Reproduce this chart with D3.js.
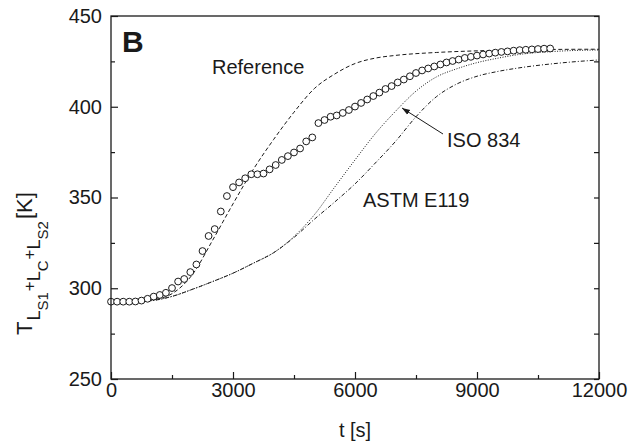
<!DOCTYPE html>
<html><head><meta charset="utf-8">
<script src="https://cdn.jsdelivr.net/npm/d3@7"></script>
<style>body{margin:0;background:#fff}svg{display:block;font-family:"Liberation Sans",Arial,sans-serif}</style>
</head><body>
<svg id="c" width="637" height="444"></svg>
<script>
// measured data (circles)
const measTime = [0,150,300,450,600,750,900,1050,1200,1350,1500,1650,1800,1950,2100,2250,2400,2550,2700,2850,3000,3150,3300,3450,3600,3750,3900,4050,4200,4350,4500,4650,4800,4950,5100,5250,5400,5550,5700,5850,6000,6150,6300,6450,6600,6750,6900,7050,7200,7350,7500,7650,7800,7950,8100,8250,8400,8550,8700,8850,9000,9150,9300,9450,9600,9750,9900,10050,10200,10350,10500,10650,10800];
const measTemp = [292.6,292.6,292.6,292.6,292.7,293.2,294.2,295.4,296.3,297.5,300.1,303.7,305.1,308.9,313.1,320.5,328.8,332.6,342.3,350.8,355.7,358.3,360.6,362.8,362.8,363.2,365.5,367.9,370.7,372.8,374.8,377.0,380.9,383.1,391.0,392.7,394.5,395.2,396.6,398.2,400.1,402.1,404.0,405.9,407.8,409.8,411.4,413.4,415.0,416.8,418.6,420.0,421.1,422.2,423.3,424.4,425.2,426.0,426.9,427.5,428.2,428.8,429.3,429.8,430.2,430.5,430.9,431.2,431.4,431.6,431.8,432.0,432.1];
// Reference curve (dashed)
const refTime = [0,500,1000,1500,2000,2500,3000,3500,4000,4500,5000,5500,6000,6500,7000,8000,9000,10000,11000,12000];
const refTemp = [292.5,292.7,293.6,297.0,307.5,326.5,346.5,365.5,382.0,397.0,410.0,418.0,423.8,426.8,428.3,429.9,430.8,431.3,431.6,431.7];
// ISO 834 (dotted)
const isoTime = [0,500,1000,1500,2000,2500,3000,3500,4000,4500,5000,5500,6000,6500,7000,7500,8000,8500,9000,9500,10000,11000,12000];
const isoTemp = [292.4,292.6,293.2,295.5,299.4,303.7,308.3,313.8,319.6,328.5,340.5,355.7,370.7,385.2,397.6,408.6,416.4,420.9,424.3,426.7,428.7,430.6,431.3];
// ASTM E119 (dash-dot)
const astmTime = [0,500,1000,1500,2000,2500,3000,3500,4000,4500,5000,5500,6000,6500,7000,7500,8000,8500,9000,9500,10000,11000,12000];
const astmTemp = [292.4,292.6,293.2,295.5,299.4,303.7,308.3,313.8,319.6,328.0,338.0,347.5,357.5,369.0,381.0,394.5,405.5,412.5,416.8,419.4,421.3,424.0,425.8];

const xMajor = [0,3000,6000,9000,12000];
const xMinor = [1500,4500,7500,10500];
const yMajor = [250,300,350,400,450];
const yMinor = [275,325,375,425];
const yAll = [250,275,300,325,350,375,400,425,450];

const svg = d3.select("#c");
const L=111,R=599,T=16,B=379;
const x = d3.scaleLinear([0,12000],[L,R]);
const y = d3.scaleLinear([250,450],[B,T]);
const ink="#1a1a1a";

function line(ts,vs){return d3.line().x((d,i)=>x(ts[i])).y(d=>y(d)).curve(d3.curveMonotoneX)(vs);}
svg.append("path").attr("d",line(refTime,refTemp)).attr("fill","none").attr("stroke",ink).attr("stroke-width",1).attr("stroke-dasharray","4,2.5");
svg.append("path").attr("d",line(isoTime,isoTemp)).attr("fill","none").attr("stroke",ink).attr("stroke-width",1).attr("stroke-dasharray","1,1.5");
svg.append("path").attr("d",line(astmTime,astmTemp)).attr("fill","none").attr("stroke",ink).attr("stroke-width",1).attr("stroke-dasharray","4,2,1,2");

svg.append("g").selectAll("circle").data(measTemp).join("circle")
  .attr("cx",(d,i)=>x(measTime[i])).attr("cy",d=>y(d)).attr("r",3.4)
  .attr("fill","#fff").attr("stroke",ink).attr("stroke-width",1);

function styleAxis(g){g.select(".domain").remove();g.selectAll("line").attr("stroke",ink).attr("stroke-width",1.2);
  g.selectAll("text").attr("font-size",20).attr("fill",ink).attr("font-family","'Liberation Sans',Arial,sans-serif");}
svg.append("g").attr("transform",`translate(0,${B})`).call(d3.axisBottom(x).tickValues(xMajor).tickSizeInner(-7).tickSizeOuter(0).tickPadding(4).tickFormat(d3.format("d"))).call(styleAxis);
svg.append("g").attr("transform",`translate(0,${B})`).call(d3.axisBottom(x).tickValues(xMinor).tickSizeInner(-4).tickSizeOuter(0).tickFormat("")).call(styleAxis);
svg.append("g").attr("transform",`translate(${L},0)`).call(d3.axisLeft(y).tickValues(yMajor).tickSizeInner(-7).tickSizeOuter(0).tickPadding(9)).call(styleAxis);
svg.append("g").attr("transform",`translate(${L},0)`).call(d3.axisLeft(y).tickValues(yMinor).tickSizeInner(-4).tickSizeOuter(0).tickFormat("")).call(styleAxis);
svg.append("g").attr("transform",`translate(${R},0)`).call(d3.axisRight(y).tickValues(yAll).tickSizeInner(-5).tickSizeOuter(0).tickFormat("")).call(styleAxis);

svg.append("rect").attr("x",L).attr("y",T).attr("width",R-L).attr("height",B-T).attr("fill","none").attr("stroke",ink).attr("stroke-width",1.3);

const txt=(s,xx,yy,fs,w)=>svg.append("text").attr("x",xx).attr("y",yy).attr("font-size",fs).attr("font-weight",w||"normal").attr("fill",ink).text(s);
txt("B",122,52,30,"bold");
txt("Reference",212,74,20);
txt("ISO 834",447,147,20);
txt("ASTM E119",363,207,20);
// x title
svg.append("text").attr("x",(L+R)/2).attr("y",437).attr("text-anchor","middle").attr("font-size",20).attr("fill",ink).text("t [s]");
// arrow
svg.append("defs").append("marker").attr("id","ah").attr("viewBox","0 0 10 10").attr("refX",10).attr("refY",5)
  .attr("markerWidth",8).attr("markerHeight",8).attr("markerUnits","userSpaceOnUse").attr("orient","auto")
  .append("path").attr("d","M0,1.5L10,5L0,8.5z").attr("fill",ink);
svg.append("line").attr("x1",443).attr("y1",134).attr("x2",402).attr("y2",108).attr("stroke",ink).attr("stroke-width",1).attr("marker-end","url(#ah)");

// y title
const yt = svg.append("text").attr("transform","translate(32,335) rotate(-90)").attr("fill",ink);
const parts = [["T",22,0,0],["L",18,8,1],["S1",15,16,0],["+",17,3,1],["L",18,8,0],["C",15,16,0],["+",17,3,1],["L",18,8,0],["S2",15,16,0],["[K]",22,0,2]];
let prev=0;
parts.forEach(([s,fs,base,dx])=>{yt.append("tspan").attr("font-size",fs).attr("dy",base-prev).attr("dx",dx).text(s);prev=base;});
</script>
</body></html>
